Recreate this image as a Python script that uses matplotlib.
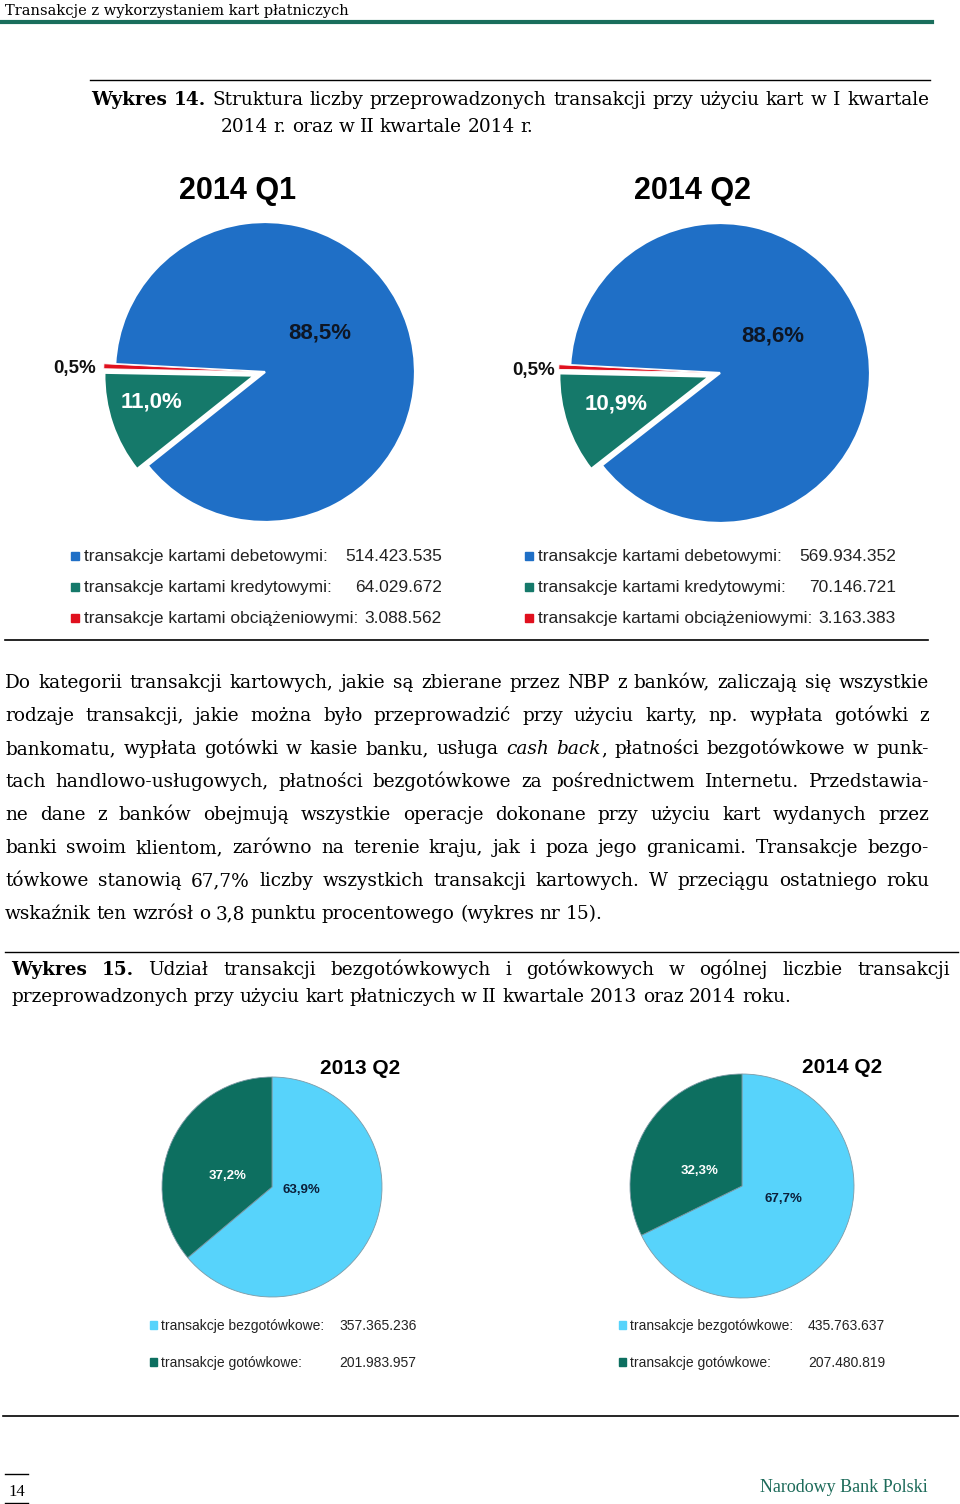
import matplotlib
matplotlib.use('Agg')
import matplotlib.pyplot as plt
from matplotlib.patches import Rectangle
from matplotlib.lines import Line2D

# ---------------- data ----------------
top_titles = ['2014 Q1', '2014 Q2']
card_types = ['transakcje kartami debetowymi:',
              'transakcje kartami kredytowymi:',
              'transakcje kartami obciążeniowymi:']
q1_2014_counts = [514423535, 64029672, 3088562]
q2_2014_counts = [569934352, 70146721, 3163383]
q1_2014_pct = ['88,5%', '11,0%', '0,5%']
q2_2014_pct = ['88,6%', '10,9%', '0,5%']
card_colors = ['#1f6fc6', '#15796a', '#e0101e']

bottom_titles = ['2013 Q2', '2014 Q2']
pay_types = ['transakcje bezgotówkowe:', 'transakcje gotówkowe:']
q2_2013_pay = [357365236, 201983957]
q2_2014_pay = [435763637, 207480819]
q2_2013_pay_pct = ['63,9%', '37,2%']
q2_2014_pay_pct = ['67,7%', '32,3%']
pay_colors = ['#57d3fb', '#0d6f60']

header_text = 'Transakcje z wykorzystaniem kart płatniczych'
caption14 = ['*Wykres* *14.* Struktura liczby przeprowadzonych transakcji przy użyciu kart w I kwartale',
             '2014 r. oraz w II kwartale 2014 r.']
body_lines = [
    'Do kategorii transakcji kartowych, jakie są zbierane przez NBP z banków, zaliczają się wszystkie',
    'rodzaje transakcji, jakie można było przeprowadzić przy użyciu karty, np. wypłata gotówki z',
    'bankomatu, wypłata gotówki w kasie banku, usługa _cash_ _back_, płatności bezgotówkowe w punk-',
    'tach handlowo-usługowych, płatności bezgotówkowe za pośrednictwem Internetu. Przedstawia-',
    'ne dane z banków obejmują wszystkie operacje dokonane przy użyciu kart wydanych przez',
    'banki swoim klientom, zarówno na terenie kraju, jak i poza jego granicami. Transakcje bezgo-',
    'tówkowe stanowią 67,7% liczby wszystkich transakcji kartowych. W przeciągu ostatniego roku',
    'wskaźnik ten wzrósł o 3,8 punktu procentowego (wykres nr 15).',
]
caption15 = ['*Wykres* *15.* Udział transakcji bezgotówkowych i gotówkowych w ogólnej liczbie transakcji',
             'przeprowadzonych przy użyciu kart płatniczych w II kwartale 2013 oraz 2014 roku.']
page_number = '14'
footer_text = 'Narodowy Bank Polski'

# ---------------- setup ----------------
W, H = 960, 1504
fig = plt.figure(figsize=(W / 100, H / 100), dpi=100)
fig.patch.set_facecolor('white')
renderer = fig.canvas.get_renderer()
SERIF = 'DejaVu Serif'
SANS = 'Liberation Sans'
BODY = 13.3


def fx(x):
    return x / W


def fy(y):
    return 1 - y / H


def hline(y, x0, x1, lw=1.0, color='black'):
    fig.add_artist(Line2D([fx(x0), fx(x1)], [fy(y), fy(y)], lw=lw, color=color,
                          transform=fig.transFigure))


def fmt(v):
    return f'{v:,}'.replace(',', '.')


def parse_word(word):
    parts, bold, ital, cur = [], False, False, ''
    for ch in word:
        if ch in '*_':
            if cur:
                parts.append((cur, bold, ital))
                cur = ''
            if ch == '*':
                bold = not bold
            else:
                ital = not ital
        else:
            cur += ch
    if cur:
        parts.append((cur, bold, ital))
    return parts


def text_line(line, x0, x1, base, size, justify=True, color='black'):
    words = [parse_word(w) for w in line.split(' ')]
    placed, widths = [], []
    for word in words:
        parts, tot = [], 0
        for s, b, i in word:
            t = fig.text(0, 0, s, fontsize=size, family=SERIF,
                         weight='bold' if b else 'normal',
                         style='italic' if i else 'normal',
                         va='baseline', ha='left', color=color)
            w = t.get_window_extent(renderer).width
            parts.append((t, w))
            tot += w
        placed.append(parts)
        widths.append(tot)
    n = len(words)
    if justify and n > 1:
        gap = (x1 - x0 - sum(widths)) / (n - 1)
    else:
        gap = 0.30 * size * 100 / 72
    x = x0
    for parts, tot in zip(placed, widths):
        xx = x
        for t, w in parts:
            t.set_position((fx(xx), fy(base)))
            xx += w
        x += tot + gap


def pie_axes(cx, cy, r):
    ax = fig.add_axes([fx(cx - r), fy(cy + r), 2 * r / W, 2 * r / H])
    ax.axis('off')
    return ax


def fix_limits(ax):
    ax.set_xlim(-1, 1)
    ax.set_ylim(-1, 1)
    ax.set_aspect('equal')


# ---------------- header ----------------
fig.text(fx(5), fy(15), header_text, fontsize=10.5, family=SERIF, va='baseline')
hline(22, 0, 932, lw=3, color='#1a6e5c')

# ---------------- caption 14 ----------------
hline(80, 90, 930, lw=1)
text_line(caption14[0], 91, 929, 105, BODY)
text_line(caption14[1], 221, 929, 132, BODY, justify=False)

# ---------------- top pies ----------------
top_data = [q1_2014_counts, q2_2014_counts]
top_pcts = [q1_2014_pct, q2_2014_pct]
top_centers = [(265, 372), (720, 373)]
top_title_pos = [(238, 199), (692, 199)]
top_label_pos = [[(320, 333), (152, 402), (75, 369)],
                 [(773, 336), (616, 404), (534, 371)]]
top_label_style = [('#0e1624', 16), ('white', 16), ('#111111', 13.5)]
legend_x = [(71, 84, 442), (525, 538, 896)]
legend_base = [561, 592, 623]

for k in range(2):
    cx, cy = top_centers[k]
    ax = pie_axes(cx, cy, 150)
    wedges, _ = ax.pie(top_data[k], colors=card_colors, startangle=177.0,
                       counterclock=False, explode=[0, 0.075, 0.075], radius=1,
                       wedgeprops=dict(edgecolor='white', linewidth=1.6))
    fix_limits(ax)
    wedges[2].set_linewidth(0.6)
    for w in wedges:
        w.set_clip_on(False)
    tx, ty = top_title_pos[k]
    fig.text(fx(tx), fy(ty), top_titles[k], fontsize=22, family=SANS,
             weight='bold', ha='center', va='baseline')
    for (lx, ly), s, (col, fs) in zip(top_label_pos[k], top_pcts[k], top_label_style):
        fig.text(fx(lx), fy(ly), s, fontsize=fs, family=SANS, weight='bold',
                 ha='center', va='center', color=col)
    sx, tx0, vx = legend_x[k]
    for name, val, col, b in zip(card_types, top_data[k], card_colors, legend_base):
        fig.add_artist(Rectangle((fx(sx), fy(b - 1)), 8 / W, 8 / H, color=col,
                                 transform=fig.transFigure))
        fig.text(fx(tx0), fy(b), name, fontsize=12.5, family=SANS, va='baseline',
                 color='#222222')
        fig.text(fx(vx), fy(b), fmt(val), fontsize=12.5, family=SANS, va='baseline',
                 ha='right', color='#222222')

hline(640, 5, 928, lw=1.2)

# ---------------- body text ----------------
for i, line in enumerate(body_lines):
    last = i == len(body_lines) - 1
    text_line(line, 5, 929, 688 + 33 * i, BODY, justify=not last)

# ---------------- caption 15 ----------------
hline(952, 5, 958, lw=1)
text_line(caption15[0], 11, 950, 975, BODY)
text_line(caption15[1], 11, 950, 1002, BODY, justify=False)

# ---------------- bottom pies ----------------
bot_data = [q2_2013_pay, q2_2014_pay]
bot_pcts = [q2_2013_pay_pct, q2_2014_pay_pct]
bot_centers = [(272, 1187, 110), (742, 1186, 112)]
bot_title_pos = [(360, 1074), (842, 1073)]
bot_label_pos = [[(301, 1190), (228, 1176)], [(783, 1199), (700, 1171)]]
bot_label_col = ['#0b1f3a', 'white']
bot_leg = [(150, 161, 339), (619, 630, 808)]
bot_base = [1330, 1367]

for k in range(2):
    cx, cy, r = bot_centers[k]
    ax = pie_axes(cx, cy, r)
    ax.pie(bot_data[k], colors=pay_colors, startangle=90, counterclock=False,
           radius=1, wedgeprops=dict(edgecolor='#7d9aa6', linewidth=0.6))
    fix_limits(ax)
    tx, ty = bot_title_pos[k]
    fig.text(fx(tx), fy(ty), bottom_titles[k], fontsize=15, family=SANS,
             weight='bold', ha='center', va='baseline')
    for (lx, ly), s, col in zip(bot_label_pos[k], bot_pcts[k], bot_label_col):
        fig.text(fx(lx), fy(ly), s, fontsize=9.5, family=SANS, weight='bold',
                 ha='center', va='center', color=col)
    sx, tx0, vx = bot_leg[k]
    for name, val, col, b in zip(pay_types, bot_data[k], pay_colors, bot_base):
        fig.add_artist(Rectangle((fx(sx), fy(b - 1)), 7 / W, 8 / H, color=col,
                                 transform=fig.transFigure))
        fig.text(fx(tx0), fy(b), name, fontsize=10, family=SANS, va='baseline',
                 color='#222222')
        fig.text(fx(vx), fy(b), fmt(val), fontsize=10, family=SANS, va='baseline',
                 color='#222222')

hline(1416, 3, 958, lw=1.2)

# ---------------- footer ----------------
hline(1474, 5, 28, lw=1)
hline(1503, 5, 28, lw=1)
fig.text(fx(17), fy(1496), page_number, fontsize=12, family='Liberation Serif',
         ha='center', va='baseline')
fig.text(fx(928), fy(1492), footer_text, fontsize=13, family='Liberation Serif',
         ha='right', va='baseline', color='#1d6b5a')

fig.savefig('out.png', dpi=100, facecolor='white')
